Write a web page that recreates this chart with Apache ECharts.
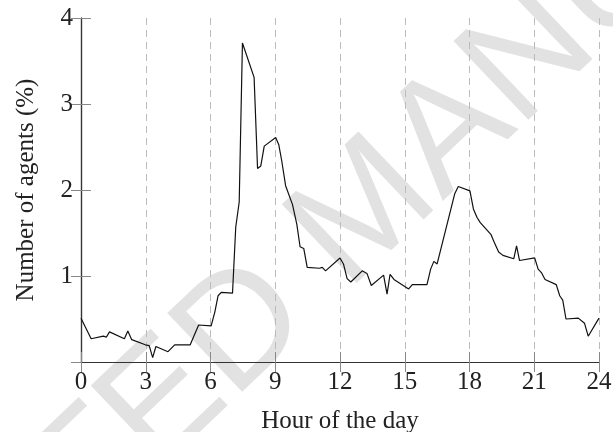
<!DOCTYPE html>
<html>
<head>
<meta charset="utf-8">
<script src="https://cdn.jsdelivr.net/npm/echarts@6/dist/echarts.min.js"></script>
<style>html,body{margin:0;padding:0;background:#fff;}#c{width:613px;height:432px;}</style>
</head>
<body>
<div id="c"></div>
<script>
const hours = [0.0,0.47,1.03,1.18,1.32,2.01,2.17,2.35,2.98,3.16,3.32,3.47,4.03,4.34,5.06,5.45,6.03,6.2,6.35,6.5,7.02,7.17,7.33,7.48,8.02,8.18,8.33,8.49,9.02,9.16,9.3,9.48,9.8,10.0,10.15,10.32,10.48,11.05,11.18,11.33,12.0,12.16,12.33,12.5,13.03,13.25,13.45,14.02,14.18,14.32,14.5,15.18,15.35,16.03,16.2,16.35,16.5,17.32,17.48,18.02,18.18,18.35,18.5,19.0,19.15,19.35,19.55,20.05,20.18,20.32,21.02,21.18,21.33,21.5,22.02,22.18,22.32,22.47,23.04,23.33,23.5,24.0];
const agents = [0.51,0.27,0.30,0.29,0.35,0.27,0.36,0.26,0.20,0.19,0.05,0.18,0.12,0.20,0.20,0.43,0.42,0.58,0.77,0.81,0.80,1.57,1.86,3.71,3.31,2.25,2.28,2.51,2.61,2.53,2.34,2.05,1.83,1.60,1.34,1.32,1.10,1.09,1.10,1.06,1.21,1.14,0.97,0.93,1.06,1.03,0.89,1.01,0.79,1.02,0.96,0.85,0.90,0.90,1.08,1.17,1.14,1.96,2.04,1.99,1.78,1.68,1.62,1.48,1.39,1.28,1.24,1.20,1.35,1.18,1.21,1.08,1.04,0.96,0.90,0.77,0.72,0.50,0.51,0.45,0.30,0.51];
const xTicks = [0,3,6,9,12,15,18,21,24];
const yTicks = [1,2,3,4];
const xTitle = 'Hour of the day';
const yTitle = 'Number of agents (%)';
const watermark = 'ACCEPTED MANUSCRIPT';

const FONT = 'Liberation Serif';
const chart = echarts.init(document.getElementById('c'), null, {renderer:'canvas'});
const tickStyle = {show:true, inside:true, length:10, lineStyle:{color:'#888', width:1}};
const lineStyleAxis = {show:true, lineStyle:{color:'#333', width:1.2}};
chart.setOption({
  animation:false,
  backgroundColor:'#fff',
  graphic:[{
    type:'text', z:-10, zlevel:0,
    x:368, y:212, rotation:0.76,
    style:{text:watermark, font:'158px "Liberation Sans"', fill:'#e2e2e2', align:'center', verticalAlign:'middle'}
  }],
  grid:{left:81, right:14, top:18, bottom:70, containLabel:false, outerBoundsMode:'none'},
  xAxis:[{
    type:'value', min:0, max:24, interval:3, position:'bottom',
    name:xTitle, nameLocation:'middle', nameGap:47,
    nameTextStyle:{fontFamily:FONT, fontSize:25, color:'#222'},
    axisLine:lineStyleAxis, axisTick:tickStyle,
    axisLabel:{fontFamily:FONT, fontSize:25, color:'#222', margin:8,
      formatter:v=>xTicks.includes(v)?String(v):''},
    splitLine:{show:true, lineStyle:{color:'#bbb', type:[7,5], width:1}}
  },{
    type:'value', min:0, max:24, interval:3, position:'top',
    axisLine:lineStyleAxis, axisTick:tickStyle, axisLabel:{show:false}, splitLine:{show:false}
  }],
  yAxis:[{
    type:'value', min:0, max:4, interval:1, position:'left',
    name:yTitle, nameLocation:'middle', nameGap:42,
    nameTextStyle:{fontFamily:FONT, fontSize:25, color:'#222'},
    axisLine:lineStyleAxis, axisTick:tickStyle,
    axisLabel:{fontFamily:FONT, fontSize:25, color:'#222', margin:8, showMinLabel:false,
      formatter:v=>yTicks.includes(v)?String(v):''},
    splitLine:{show:false}
  },{
    type:'value', min:0, max:4, interval:1, position:'right',
    axisLine:lineStyleAxis, axisTick:tickStyle, axisLabel:{show:false}, splitLine:{show:false}
  }],
  series:[{
    type:'line', xAxisIndex:0, yAxisIndex:0,
    data:hours.map((h,i)=>[h, agents[i]]),
    showSymbol:false, symbol:'none',
    lineStyle:{color:'#111', width:1.2},
    z:5
  }]
});
</script>
</body>
</html>
